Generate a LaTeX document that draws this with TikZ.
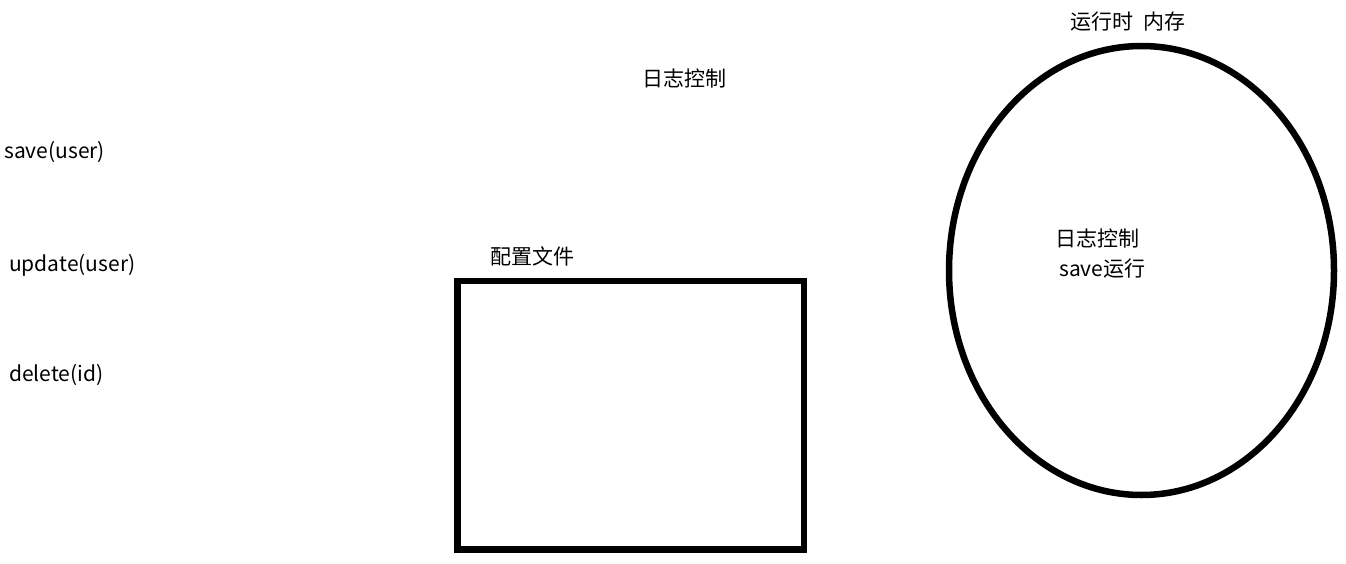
\documentclass[tikz,border=0pt]{standalone}
\usepackage{fontspec}
\setmainfont{Noto Sans CJK SC}
\usetikzlibrary{shapes.geometric}

\tikzset{txt/.style={inner sep=0pt},
  thick border/.style={draw,line width=6.5pt,inner sep=0pt}}

\begin{document}
\begin{tikzpicture}[x=1pt,y=-1pt,font=\fontsize{21}{25}\selectfont]
    \useasboundingbox (0,0) rectangle (1346,564);
    \node[txt,anchor=west] (save)   at (4,152) {save(user)};
    \node[txt,anchor=west] (update) at (9,265) {update(user)};
    \node[txt,anchor=west] (delete) at (9,375) {delete(id)};
    \node[txt] (log)  at (684,79) {日志控制};
    \node[txt] (conflabel) at (532,256) {配置文件};
    \node[thick border,rectangle,minimum width=346.5pt,minimum height=268.5pt] (conf) at (630.75,415.25) {};
    \node[txt] (memlabel) at (1128,22) {运行时\ \ 内存};
    \node[thick border,ellipse,minimum width=385pt,minimum height=449pt] (mem) at (1141.5,270.5) {};
    \node[txt,anchor=west] (memlog)  at (1055,238) {日志控制};
    \node[txt,anchor=west] (memsave) at (1059,269) {save运行};
  \end{tikzpicture}
\end{document}
